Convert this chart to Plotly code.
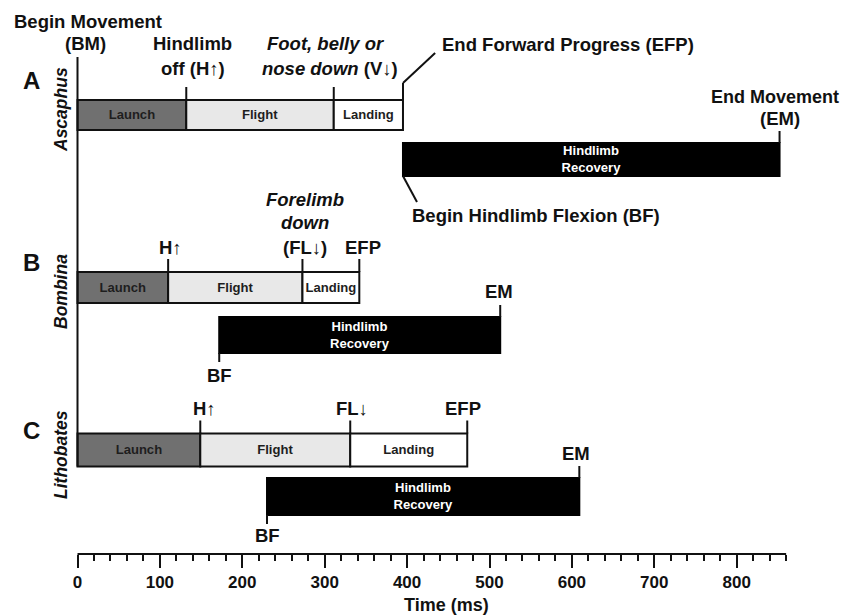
import plotly.graph_objects as go

# ---------------- data (ms) ----------------
species = ["Ascaphus", "Bombina", "Lithobates"]
panels = ["A", "B", "C"]
begin_movement = [0, 0, 0]          # BM
hindlimb_off = [132, 110, 149]      # H↑
limb_down = [311, 273, 331]         # V↓ / FL↓
end_forward = [395, 342, 473]       # EFP
begin_flexion = [395, 172, 230]     # BF
end_movement = [852, 513, 609]      # EM
tick_values = [0, 100, 200, 300, 400, 500, 600, 700, 800]
tick_labels = ["0", "100", "200", "300", "400", "500", "600", "700", "800"]
minor_values = list(range(0, 861, 20))
axis_end = 860

# ---------------- layout constants ----------------
OFF = 8                      # page body margin in the browser
W, H = 848 - OFF, 615 - OFF
L, R, T = 62, 58, 0
AXIS_Y = 554                 # screen px of the time axis line
B = H - (AXIS_Y - OFF)
PX0, PXMS = 77.5, 0.824      # screen px of 0 ms, px per ms
xmin = -(PX0 - OFF - L) / PXMS
xmax = xmin + (W - L - R) / PXMS
PLOT_H = H - T - B
FONT = "Liberation Sans, DejaVu Sans, Arial, sans-serif"
LBL = 18.5

phase_y = [115, 287.5, 450]
phase_h = [30, 31, 33]
rec_y = [159.5, 335, 496.5]
rec_h = [33, 36, 37]

def paper_x(px):
    return (px - OFF - L) / (W - L - R)

fig = go.Figure()

phases = [
    ("Launch", begin_movement, hindlimb_off, "#707070", "#1e1e1e"),
    ("Flight", hindlimb_off, limb_down, "#e8e8e8", "#1e1e1e"),
    ("Landing", limb_down, end_forward, "#ffffff", "#1e1e1e"),
]
for name, s, e, col, tcol in phases:
    fig.add_trace(go.Bar(
        orientation="h", y=phase_y, base=s, x=[b - a for a, b in zip(s, e)],
        width=phase_h, marker=dict(color=col, line=dict(color="#111111", width=2)),
        text=[name] * 3, textposition="inside", insidetextanchor="middle", textangle=0,
        textfont=dict(family=FONT, size=13.5, color=tcol, weight="bold"),
        hoverinfo="skip", showlegend=False))

fig.add_trace(go.Bar(
    orientation="h", y=rec_y, base=begin_flexion,
    x=[b - a for a, b in zip(begin_flexion, end_movement)],
    width=rec_h, marker=dict(color="#000000", line=dict(color="#000000", width=2)),
    text=["Hindlimb<br>Recovery"] * 3, textposition="inside", insidetextanchor="middle", textangle=0,
    textfont=dict(family=FONT, size=13.5, color="#ffffff", weight="bold"),
    hoverinfo="skip", showlegend=False))

shapes = []
def seg(x0, y0, x1, y1, w=2):
    shapes.append(dict(type="line", xref="x", yref="y", x0=x0, x1=x1, y0=y0, y1=y1,
                       line=dict(color="#111111", width=w)))

def vline(x, y0, y1, w=2):
    seg(x, y0, x, y1, w)

# Begin movement line
vline(begin_movement[0], 57, phase_y[2] + phase_h[2] / 2)

for i in range(3):
    top = phase_y[i] - phase_h[i] / 2
    rtop = rec_y[i] - rec_h[i] / 2
    rbot = rec_y[i] + rec_h[i] / 2
    vline(hindlimb_off[i], top - 13, top)
    vline(limb_down[i], top - 13, top)
    if i == 0:
        vline(end_forward[i], top - 17, top)
        seg(end_forward[i], top - 17, 434, 53)
        seg(begin_flexion[i], rbot, 412, 202)
    else:
        vline(end_forward[i], top - 13, top)
        vline(begin_flexion[i], rbot, rbot + 9)
    vline(end_movement[i], rtop - 12, rtop)

# axis baseline
shapes.append(dict(type="line", xref="x", yref="paper", x0=0, x1=axis_end, y0=0, y1=0,
                   line=dict(color="#111111", width=2)))

ann = []
def t(text, x, y, size=LBL, xref="x", xanchor="center", angle=0):
    ann.append(dict(text=text, x=x, y=y, xref=xref, yref="y", xanchor=xanchor, yanchor="middle",
                    showarrow=False, textangle=angle,
                    font=dict(family=FONT, size=size, color="#111111", weight="bold")))

# panel A
t("Begin Movement", paper_x(12), 21, xref="paper", xanchor="left")
t("(BM)", begin_movement[0] + 10, 43)
t("Hindlimb", hindlimb_off[0] + 7, 43)
t("off (H↑)", hindlimb_off[0] + 8, 68)
t("<i>Foot, belly or</i>", limb_down[0] - 10, 43)
t("<i>nose down</i> (V↓)", limb_down[0] - 4, 68)
t("End Forward Progress (EFP)", 440, 44, xanchor="left")
t("End Movement", end_movement[0] - 5, 97, size=18)
t("(EM)", end_movement[0], 118)
t("Begin Hindlimb Flexion (BF)", 403, 215, xanchor="left")
# panel B
t("H↑", hindlimb_off[1] + 3, 247)
t("<i>Forelimb</i>", limb_down[1] + 3, 199)
t("<i>down</i>", limb_down[1] + 3, 222)
t("(FL↓)", limb_down[1] + 3, 247)
t("EFP", end_forward[1] + 4, 247)
t("EM", end_movement[1] - 2, 291)
t("BF", begin_flexion[1], 375)
# panel C
t("H↑", hindlimb_off[2] + 5, 408)
t("FL↓", limb_down[2] + 2, 408)
t("EFP", end_forward[2] - 5, 408)
t("EM", end_movement[2] - 4, 453)
t("BF", begin_flexion[2] + 1, 535)

letter_y = [80, 262, 430]
species_y = [110, 292, 455]
for i in range(3):
    t(panels[i], paper_x(31), letter_y[i], size=24, xref="paper")
    t("<i>" + species[i] + "</i>", paper_x(61), species_y[i], size=17.5, xref="paper", angle=-90)

# axis title
ann.append(dict(text="Time (ms)", x=448, y=-(605 - AXIS_Y) / PLOT_H, xref="x", yref="paper",
                xanchor="center", yanchor="middle", showarrow=False,
                font=dict(family=FONT, size=18, color="#111111", weight="bold")))

fig.update_layout(
    width=W, height=H, margin=dict(l=L, r=R, t=T, b=B, pad=0),
    paper_bgcolor="white", plot_bgcolor="white",
    barmode="overlay", shapes=shapes, annotations=ann,
    uniformtext=dict(minsize=13, mode="show"),
    xaxis=dict(range=[xmin, xmax], showline=False, showgrid=False, zeroline=False,
               tickmode="array", tickvals=tick_values, ticktext=tick_labels,
               ticks="outside", ticklen=13, tickwidth=2, tickcolor="#111111",
               tickfont=dict(family=FONT, size=17, color="#111111", weight="bold"),
               minor=dict(tickmode="array", tickvals=minor_values, ticks="outside",
                          ticklen=6, tickwidth=1.5, tickcolor="#111111")),
    yaxis=dict(range=[AXIS_Y, OFF], visible=False, showgrid=False, zeroline=False),
)

fig.write_html("out.html")
